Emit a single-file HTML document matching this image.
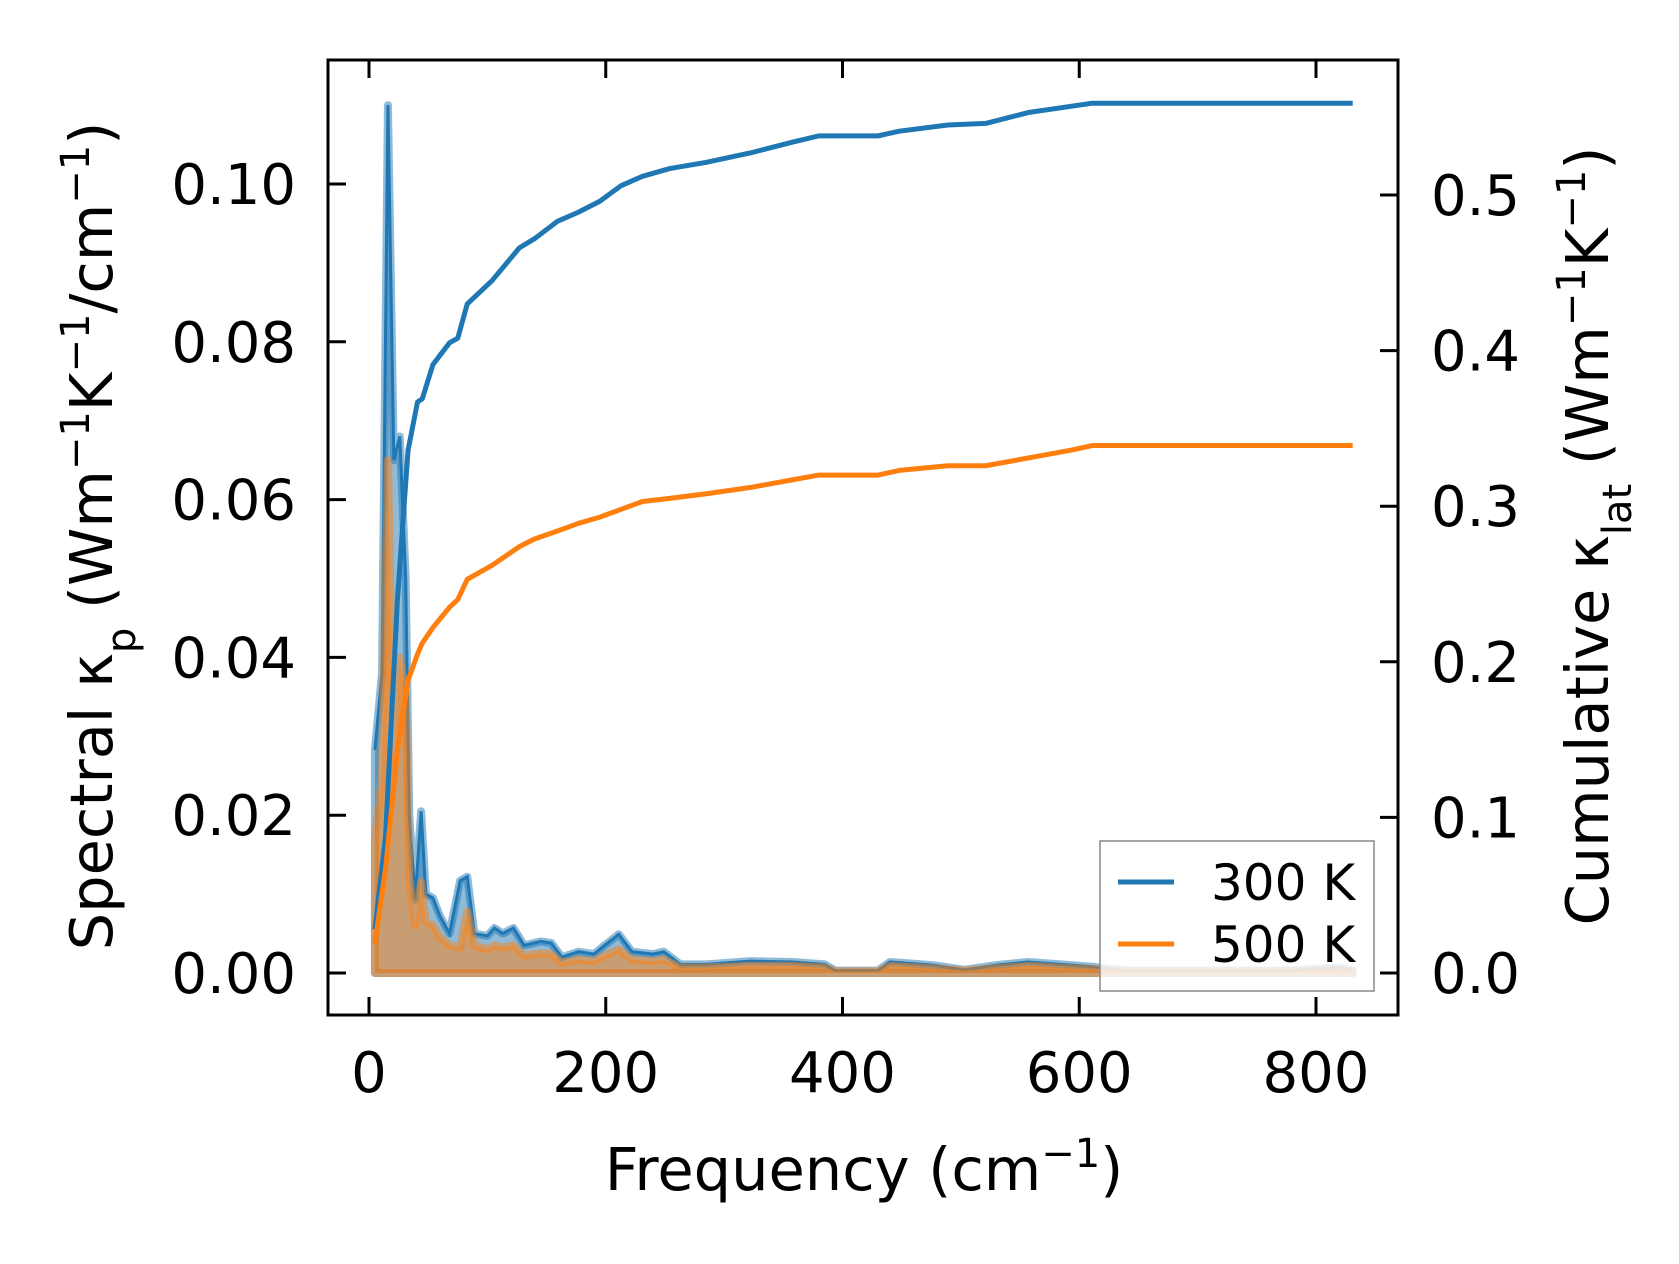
<!DOCTYPE html>
<html><head><meta charset="utf-8"><style>
html,body{margin:0;padding:0;background:#fff;}
svg{display:block;font-family:"DejaVu Sans","Liberation Sans",sans-serif;}
</style></head><body>
<svg id="chart" width="1679" height="1264" viewBox="0 0 1679 1264" xmlns="http://www.w3.org/2000/svg">
<rect width="1679" height="1264" fill="#fff"/>
<g id="plot"></g>
<g id="axes"></g>
</svg>
<script>
// ---- data ----
const freq = [5,11,16,21,26,31,34,39,44,48,54,60,68,77,83,89,100,106,113,122,131,145,154,163,177,190,199,211,222,240,249,263,285,322,358,385,394,430,440,476,503,530,557,593,611,639,775,820,831];
const spec300 = [0.0283,0.038,0.110,0.065,0.068,0.050,0.020,0.0093,0.0205,0.010,0.0095,0.0072,0.005,0.0117,0.0122,0.005,0.0047,0.0057,0.005,0.0057,0.0035,0.004,0.0038,0.002,0.0027,0.0024,0.0035,0.0049,0.0027,0.0024,0.0027,0.0011,0.0011,0.0015,0.0014,0.0011,0.0003,0.0003,0.0014,0.001,0.0004,0.001,0.0014,0.001,0.0008,0.0003,0.0003,0.0007,0.0003];
const spec500 = [0.017,0.025,0.065,0.025,0.040,0.035,0.012,0.006,0.0115,0.0065,0.006,0.0045,0.0035,0.0032,0.0078,0.0035,0.003,0.0035,0.0032,0.0035,0.0022,0.0025,0.0024,0.0013,0.0017,0.0015,0.0022,0.003,0.0017,0.0015,0.0017,0.0007,0.0007,0.0009,0.0009,0.0007,0.0002,0.0002,0.0009,0.0006,0.0003,0.0006,0.0009,0.0006,0.0005,0.0002,0.0002,0.0004,0.0002];
const cumFreq = [5,14,24,33,41,45,54,68,75,83,104,127,140,159,177,195,213,231,254,285,322,358,380,430,448,489,521,557,593,611,831];
const cum300 = [0.028,0.088,0.24,0.336,0.367,0.369,0.391,0.405,0.408,0.430,0.445,0.466,0.472,0.483,0.489,0.496,0.506,0.512,0.517,0.521,0.527,0.534,0.538,0.538,0.541,0.545,0.546,0.553,0.557,0.559,0.559];
const cum500 = [0.019,0.067,0.143,0.188,0.205,0.212,0.222,0.235,0.240,0.253,0.262,0.274,0.279,0.284,0.289,0.293,0.298,0.303,0.305,0.308,0.312,0.317,0.320,0.320,0.323,0.326,0.326,0.331,0.336,0.339,0.339];
const xTicks = [0,200,400,600,800];
const yTicksL = [0,0.02,0.04,0.06,0.08,0.10];
const yTicksR = [0,0.1,0.2,0.3,0.4,0.5];
const yTickLabelsL = ["0.00","0.02","0.04","0.06","0.08","0.10"];
const yTickLabelsR = ["0.0","0.1","0.2","0.3","0.4","0.5"];

// ---- scales ----
const L=328, R=1398, T=60, B=1015;
const X = f => 369 + f*(1316-369)/800;
const YL = v => 973 - v*7890;
const YR = v => 973 - v*1556;
const NS="http://www.w3.org/2000/svg";
const plot=document.getElementById('plot'), axes=document.getElementById('axes');
function mk(tag, attrs, parent){const e=document.createElementNS(NS,tag);for(const k in attrs)e.setAttribute(k,attrs[k]);parent.appendChild(e);return e;}

function areaPath(xs, ys){
  let d=`M${X(xs[0])},${YL(0)}`;
  xs.forEach((f,i)=>{d+=` L${X(f)},${YL(ys[i])}`;});
  d+=` L${X(xs[xs.length-1])},${YL(0)} Z`;return d;
}
function linePath(xs, ys, yf){return xs.map((f,i)=>(i?'L':'M')+X(f)+','+yf(ys[i])).join(' ');}

const a300=mk('path',{d:areaPath(freq,spec300),fill:'rgba(31,119,180,0.5)',stroke:'rgba(31,119,180,0.5)','stroke-width':8,'stroke-linejoin':'round'},plot);


const l300=mk('path',{d:linePath(freq,spec300,YL),fill:'none',stroke:'#1f77b4','stroke-width':3},plot);


const a500=mk('path',{d:areaPath(freq,spec500),fill:'rgba(255,127,14,0.5)',stroke:'rgba(255,127,14,0.5)','stroke-width':8,'stroke-linejoin':'round'},plot);


const c300=mk('path',{d:linePath(cumFreq,cum300,YR),fill:'none',stroke:'#1f77b4','stroke-width':5,'stroke-linejoin':'round'},plot);


const c500=mk('path',{d:linePath(cumFreq,cum500,YR),fill:'none',stroke:'#ff7f0e','stroke-width':5,'stroke-linejoin':'round'},plot);



// frame
const frame=mk('rect',{x:L,y:T,width:R-L,height:B-T,fill:'none',stroke:'#000','stroke-width':3},axes);


const TL=18;
xTicks.forEach(v=>{
  const x=X(v);
  mk('line',{x1:x,x2:x,y1:B,y2:B-TL,stroke:'#000','stroke-width':3},axes);
  mk('line',{x1:x,x2:x,y1:T,y2:T+TL,stroke:'#000','stroke-width':3},axes);
  const t=mk('text',{x:x,y:1092,'font-size':56,'text-anchor':'middle'},axes);t.textContent=String(v);
  
  
});
yTicksL.forEach((v,i)=>{
  const y=YL(v);
  mk('line',{x1:L,x2:L+TL,y1:y,y2:y,stroke:'#000','stroke-width':3},axes);
  const t=mk('text',{x:296,y:y+20,'font-size':56,'text-anchor':'end'},axes);t.textContent=yTickLabelsL[i];
  
  
});
yTicksR.forEach((v,i)=>{
  const y=YR(v);
  mk('line',{x1:R,x2:R-TL,y1:y,y2:y,stroke:'#000','stroke-width':3},axes);
  const t=mk('text',{x:1431,y:y+20,'font-size':56,'text-anchor':'start'},axes);t.textContent=yTickLabelsR[i];
  
  
});
</script>
<svg style="position:absolute;left:0;top:0" width="1679" height="1264" viewBox="0 0 1679 1264" xmlns="http://www.w3.org/2000/svg" font-family="DejaVu Sans, Liberation Sans, sans-serif">
<g>
<rect x="1100" y="841" width="274" height="150" fill="rgba(255,255,255,0.8)" stroke="#888" stroke-width="1.5"/>
<line x1="1118" x2="1174" y1="882" y2="882" stroke="#1f77b4" stroke-width="5"/>
<text x="1211" y="900" font-size="50">300 K</text>
<line x1="1118" x2="1174" y1="944" y2="944" stroke="#ff7f0e" stroke-width="5"/>
<text x="1211" y="962" font-size="50">500 K</text>
</g>
<text x="864" y="1190" font-size="59" text-anchor="middle">Frequency (cm<tspan baseline-shift="super" font-size="40">−1</tspan>)</text>
<text transform="translate(112,536) rotate(-90)" font-size="59" text-anchor="middle">Spectral κ<tspan baseline-shift="sub" font-size="40">p</tspan> (Wm<tspan baseline-shift="super" font-size="40">−1</tspan>K<tspan baseline-shift="super" font-size="40">−1</tspan>/cm<tspan baseline-shift="super" font-size="40">−1</tspan>)</text>
<text transform="translate(1608,536) rotate(-90)" font-size="59" text-anchor="middle">Cumulative κ<tspan baseline-shift="sub" font-size="40">lat</tspan> (Wm<tspan baseline-shift="super" font-size="40">−1</tspan>K<tspan baseline-shift="super" font-size="40">−1</tspan>)</text>
</svg>
</body></html>
